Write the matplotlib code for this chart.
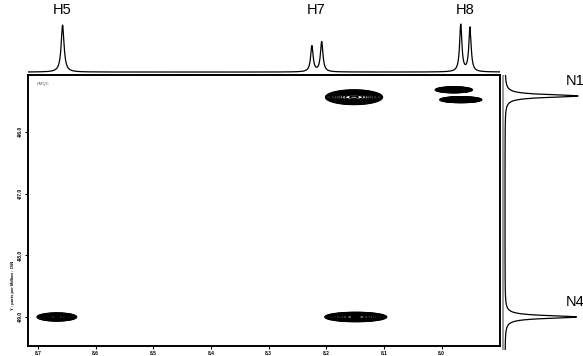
import numpy as np
import matplotlib
matplotlib.use("Agg")
import matplotlib.pyplot as plt

plt.rcParams['font.family'] = ['Liberation Sans', 'DejaVu Sans']

# ---- data ----
# 1D proton spectrum (top): peak positions (ppm), relative heights, half-widths
h_pos = [8.657, 8.225, 8.208, 7.967, 7.951]
h_hgt = [1.00, 0.55, 0.64, 1.00, 0.94]
h_wid = [0.0030, 0.0026, 0.0026, 0.0024, 0.0024]
h_labels = ["H5", "H7", "H8"]
h_label_pos = [8.657, 8.217, 7.959]

# 1D nitrogen projection (right)
n_pos = [-95.42, -99.00]
n_hgt = [1.00, 0.98]
n_wid = [0.028, 0.028]
n_labels = ["N1", "N4"]

# 2D cross peaks: (x ppm, y ppm, sx, sy)
cp_x = [8.152, 7.979, 7.967, 8.667, 8.149]
cp_y = [-95.44, -95.32, -95.48, -99.00, -99.00]
cp_sx = [0.023, 0.015, 0.017, 0.016, 0.025]
cp_sy = [0.055, 0.022, 0.022, 0.030, 0.035]

x_ticks = [8.7, 8.6, 8.5, 8.4, 8.3, 8.2, 8.1, 8.0]
y_ticks = [-96.0, -97.0, -98.0, -99.0]
x_lim = (8.717, 7.899)
y_lim = (-99.47, -95.08)

W, H = 583, 356
fig = plt.figure(figsize=(W / 100, H / 100), dpi=100)

def fx(px):
    return px / W

def fy(py):
    return 1 - py / H

# main 2D axes
ax = fig.add_axes([fx(28), fy(346), fx(500) - fx(28), fy(75) - fy(346)])
xg = np.linspace(x_lim[1], x_lim[0], 900)
yg = np.linspace(y_lim[0], y_lim[1], 700)
X, Y = np.meshgrid(xg, yg)
Z = np.zeros_like(X)
for cx, cy, sx, sy in zip(cp_x, cp_y, cp_sx, cp_sy):
    Z += np.exp(-0.5 * (((X - cx) / sx) ** 2 + ((Y - cy) / sy) ** 2))
levels = np.geomspace(0.1, 0.95, 14)
ax.contour(X, Y, Z, levels=levels, colors='black', linewidths=1.0)
ax.set_xlim(*x_lim)
ax.set_ylim(*y_lim)
ax.set_xticks(x_ticks)
ax.set_xticklabels([f"{v:.1f}" for v in x_ticks], fontsize=3.5, fontweight='bold')
ax.set_yticks(y_ticks)
ax.set_yticklabels([f"{v:.1f}" for v in y_ticks], fontsize=3.5, fontweight='bold',
                   rotation=90, va='center')
ax.tick_params(axis='both', length=2, width=0.8, pad=1.5)
for s in ax.spines.values():
    s.set_linewidth(1.4)
ax.text(0.018, 0.975, "HMQC", transform=ax.transAxes, fontsize=3, color='#555555',
        va='top', ha='left')
fig.text(fx(13), fy(285), "Y : parts per Million : 15N", rotation=90, fontsize=3,
         fontweight='bold', ha='center', va='center')

# top 1D spectrum
axt = fig.add_axes([fx(28), fy(73), fx(500) - fx(28), fy(0) - fy(73)])
xs = np.linspace(x_lim[1], x_lim[0], 4000)
spec = np.zeros_like(xs)
for p, h, w in zip(h_pos, h_hgt, h_wid):
    spec += h * w ** 2 / ((xs - p) ** 2 + w ** 2)
axt.plot(xs, spec, color='black', lw=0.9)
axt.set_xlim(*x_lim)
axt.set_ylim(-0.02, 72 / 47)
axt.axis('off')
for lab, p in zip(h_labels, h_label_pos):
    axt.text(p, 1.18, lab, ha='center', va='bottom', fontsize=10.5)

# right 1D projection
axr = fig.add_axes([fx(500), fy(350), fx(583) - fx(500), fy(75) - fy(350)])
ys = np.linspace(-99.55, y_lim[1], 4000)
proj = np.zeros_like(ys)
for p, h, w in zip(n_pos, n_hgt, n_wid):
    proj += h * w ** 2 / ((ys - p) ** 2 + w ** 2)
axr.plot(proj, ys, color='black', lw=0.9)
axr.axvline(-2.5 / 73, color='#888888', lw=1.2)
axr.set_xlim(-5 / 73, 78 / 73)
axr.set_ylim(y_lim[0] - (y_lim[1] - y_lim[0]) * 4 / 271, y_lim[1])
axr.axis('off')
for lab, p in zip(n_labels, n_pos):
    axr.text(0.96, p + 0.13, lab, ha='center', va='bottom', fontsize=10.5)

fig.savefig("out.png", dpi=100)
